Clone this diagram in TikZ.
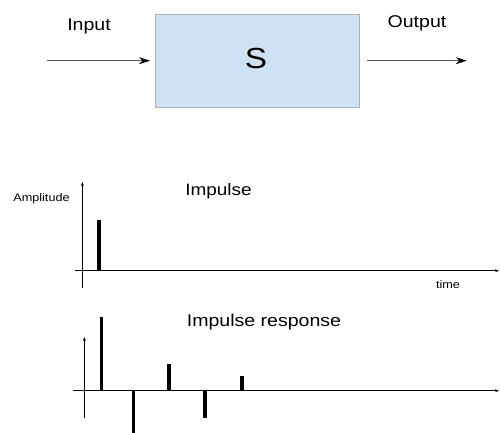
\documentclass[tikz,border=0pt]{standalone}
\usepackage{fontspec}
\setmainfont{Liberation Sans}[FakeStretch=1.15]
\usepackage{tikz}
\usetikzlibrary{arrows.meta}
\usepackage{xcolor}
\definecolor{boxblue}{RGB}{207,226,243}

\begin{document}
\begin{tikzpicture}[
        x=1pt, y=-1pt,
        >=Stealth,
        every node/.style={inner sep=0pt},
        lab/.style={anchor=base, font=\fontsize{17}{20}\selectfont},
        small/.style={anchor=base, font=\fontsize{11}{13}\selectfont},
        sysnode/.style={draw=gray!60, fill=boxblue, minimum width=204pt, minimum height=93pt},
        sig/.style={-{Stealth[length=11pt,width=7pt,black]}, draw=gray!70!black, line width=0.6pt},
        axis/.style={-{Stealth[length=4pt,width=3pt]}, line width=0.8pt},
        spike/.style={line width=3.6pt}
    ]
    \useasboundingbox (0,0) rectangle (500,433);

    % system block
    \node[sysnode] (sys) at (257.2,60.7) {};
    \node[anchor=base, font=\fontsize{29}{34}\selectfont] (sysLab) at (256,68.3) {S};

    \coordinate (in) at (46.7,60.7);
    \coordinate (out) at (466.7,60.7);
    \draw[sig, shorten >=5pt] (in) -- (sys.west);
    \draw[sig, shorten <=8pt] (sys.east) -- (out);

    \node[lab] (inLab) at (89,30.7) {Input};
    \node[lab] (outLab) at (417,27.3) {Output};

    % impulse
    \draw[axis] (82.3,288) -- (82.3,182);
    \draw[axis] (75,270.7) -- (499,270.7);
    \draw[spike] (98.7,270.7) -- (98.7,220);

    \node[small] (ampLab) at (41.5,201.7) {Amplitude};
    \node[lab, font=\fontsize{16.5}{20}\selectfont] (impLab) at (218.5,195.7) {Impulse};
    \node[small] (timeLab) at (448,288.3) {time};

    % impulse response
    \draw[axis] (84.3,418) -- (84.3,337);
    \draw[axis] (73,390.7) -- (499,390.7);
    \foreach \t/\h in {101.3/317.3, 133.3/433, 169/364, 204.7/418, 241.7/376}
        \draw[spike] (\t,390.7) -- (\t,\h);

    \node[lab] (respLab) at (264,326) {Impulse response};

\end{tikzpicture}
\end{document}
